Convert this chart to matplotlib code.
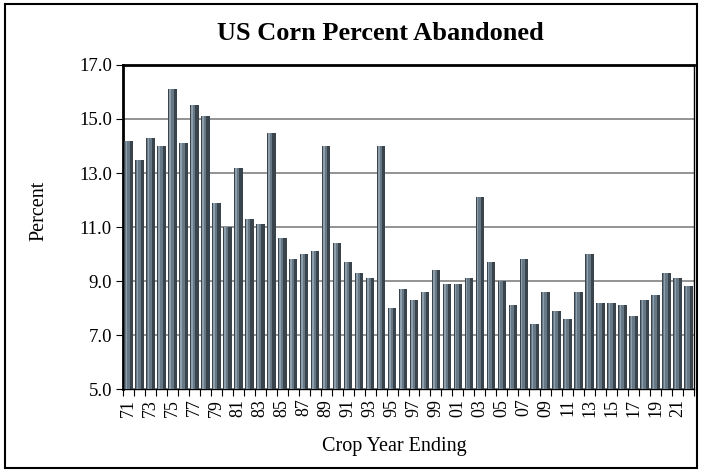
import numpy as np
import matplotlib
matplotlib.use("Agg")
import matplotlib.pyplot as plt
from matplotlib.patches import Rectangle

# Crop years 1971-2022
years = [f"{y % 100:02d}" for y in range(1971, 2023)]
abandoned = [14.2, 13.5, 14.3, 14.0, 16.1, 14.1, 15.5, 15.1, 11.9, 11.0,
             13.2, 11.3, 11.1, 14.5, 10.6, 9.8, 10.0, 10.1, 14.0, 10.4,
             9.7, 9.3, 9.1, 14.0, 8.0, 8.7, 8.3, 8.6, 9.4, 8.9,
             8.9, 9.1, 12.1, 9.7, 9.0, 8.1, 9.8, 7.4, 8.6, 7.9,
             7.6, 8.6, 10.0, 8.2, 8.2, 8.1, 7.7, 8.3, 8.5, 9.3,
             9.1, 8.8]

plt.rcParams['font.family'] = ['Liberation Serif', 'DejaVu Serif']

fig = plt.figure(figsize=(7.01, 4.72), dpi=100)
ax = fig.add_axes([0.1755, 0.1758, 0.8145, 0.6865])

x = np.arange(len(years))
base = 5.0
h = np.array(abandoned) - base
# dark body, lighter left highlight, to mimic the shaded column look
ax.bar(x, h, bottom=base, width=0.78, color="#3a444c", edgecolor="none", zorder=3)
ax.bar(x - 0.1, h, bottom=base, width=0.4, color="#667885", edgecolor="none", zorder=3)
ax.bar(x - 0.2, h, bottom=base, width=0.14, color="#8fa0ac", edgecolor="none", zorder=3)

ax.set_xlim(-0.5, len(years) - 0.5)
ax.set_ylim(5.0, 17.0)
ax.set_yticks(np.arange(5.0, 17.1, 2.0))
ax.set_yticklabels([f"{v:.1f}" for v in np.arange(5.0, 17.1, 2.0)], fontsize=13.5)
ax.yaxis.grid(True, color="#8a8a8a", linewidth=1.3, zorder=0)
ax.set_axisbelow(True)

ax.set_xticks(x[::2])
ax.set_xticklabels(years[::2], rotation=90, fontsize=13)
ax.set_xticks(np.arange(-0.5, len(years), 1.0), minor=True)
ax.tick_params(axis="x", which="major", length=0, pad=7)
ax.tick_params(axis="x", which="minor", length=5, direction="out", width=0.8)
ax.tick_params(axis="y", length=5, direction="out", width=0.8, pad=3)

for side in ["top", "left"]:
    ax.spines[side].set_linewidth(2.0)
for side in ["bottom", "right"]:
    ax.spines[side].set_linewidth(1.0)

fig.text(380 / 701, 1 - 33 / 472, "US Corn Percent Abandoned", fontsize=19,
         fontweight="bold", ha="center", va="center")
ax.set_ylabel("Percent", fontsize=14.5)
ax.yaxis.set_label_coords(-0.131, 0.55)
ax.set_xlabel("Crop Year Ending", fontsize=14.5)
ax.xaxis.set_label_coords(0.476, -0.148)

fig.patches.append(Rectangle((5 / 701, 4 / 472), 692 / 701, 464 / 472,
                             transform=fig.transFigure, fill=False,
                             edgecolor="black", linewidth=1.5))

fig.savefig("out.png", dpi=100)
